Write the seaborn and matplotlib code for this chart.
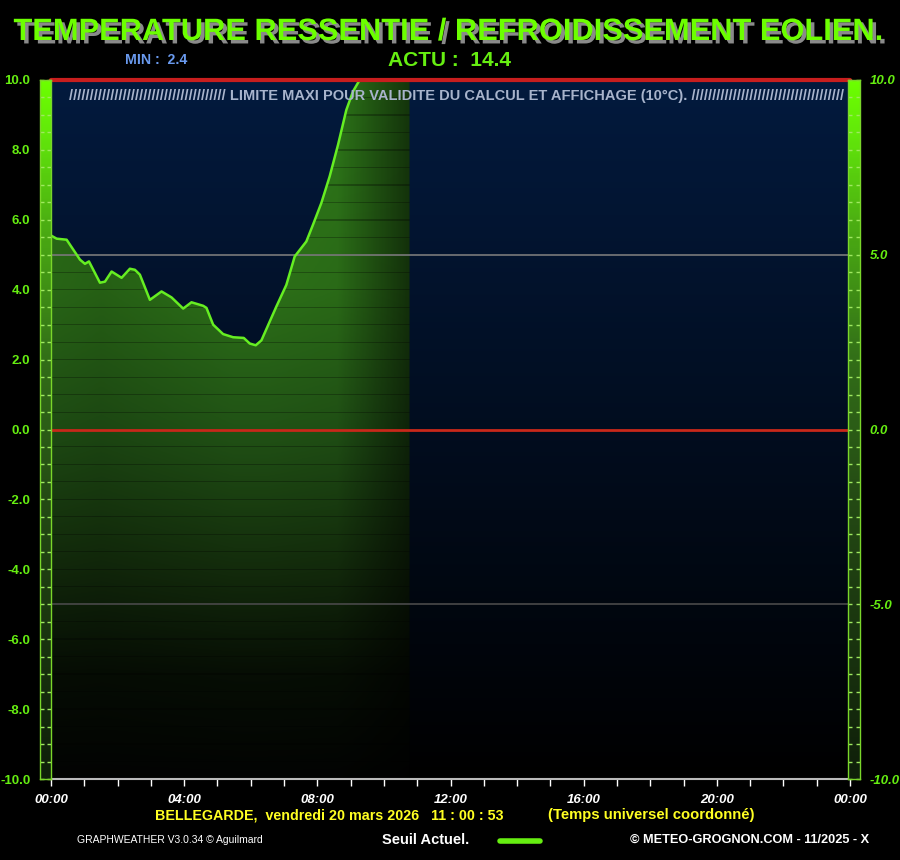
import numpy as np
import pandas as pd
import seaborn as sns
import matplotlib.pyplot as plt
import matplotlib.patheffects as pe
from matplotlib.colors import to_rgb, LinearSegmentedColormap
from matplotlib.lines import Line2D

# heures (UTC, en heures décimales) et température ressentie (°C)
heures = [0.0, 0.17, 0.47, 0.87, 1.02, 1.14, 1.47, 1.62, 1.82, 2.12, 2.37, 2.52, 2.67,
          2.97, 3.32, 3.62, 3.97, 4.22, 4.57, 4.67, 4.87, 5.17, 5.47, 5.79, 5.97, 6.15,
          6.32, 6.77, 7.07, 7.32, 7.67, 7.87, 8.12, 8.37, 8.62, 8.87, 9.07, 9.27, 9.6,
          10.0, 10.4, 10.77]
ressentie = [5.55, 5.46, 5.43, 4.86, 4.74, 4.81, 4.20, 4.23, 4.52, 4.34, 4.60, 4.57, 4.43,
             3.71, 3.95, 3.78, 3.46, 3.64, 3.54, 3.48, 3.00, 2.73, 2.64, 2.62, 2.46, 2.41,
             2.55, 3.52, 4.14, 4.95, 5.38, 5.86, 6.48, 7.24, 8.14, 9.14, 9.67, 10.0, 11.0,
             12.2, 13.4, 14.4]

x_ticks = [0, 4, 8, 12, 16, 20, 24]
x_labels = ["00:00", "04:00", "08:00", "12:00", "16:00", "20:00", "00:00"]
y_ticks_gauche = [10, 8, 6, 4, 2, 0, -2, -4, -6, -8, -10]
y_ticks_droite = [10, 5, 0, -5, -10]

titre = "TEMPERATURE RESSENTIE / REFROIDISSEMENT EOLIEN."
ville = "BELLEGARDE,  vendredi 20 mars 2026   11 : 00 : 53"
fuseau = "(Temps universel coordonné)"

df = pd.DataFrame({"heure": heures, "temp": ressentie})

sns.set_theme(style="dark")
plt.rcParams['font.family'] = ['Liberation Sans', 'DejaVu Sans']

VERT = '#66ee11'
W, H = 900, 860


def px(x0, y0, x1, y1):
    return [x0 / W, 1 - y1 / H, (x1 - x0) / W, (y1 - y0) / H]


fig = plt.figure(figsize=(9, 8.6), dpi=100, facecolor='black')
ax = fig.add_axes(px(51, 80, 850, 779))
ax.set_facecolor('black')

# fond bleu nuit -> noir
vv = np.linspace(10, -10, 1400)
k = (vv + 10) / 20
navy = np.array(to_rgb('#031a3e'))
bg = (k[:, None] * navy)[:, None, :] * np.ones((1, 2, 1))
ax.imshow(bg, extent=[0, 24, -10, 10], aspect='auto', zorder=0)

# remplissage vert dégradé sous la courbe, avec les fines lignes tous les 0.5
t_end = heures[-1]
tt = np.linspace(0, t_end, 300)
stops_v = [10, 4, 0, -4, -7, -10]
stops_c = ['#2d7619', '#2a6a17', '#1f4e14', '#12290b', '#060d04', '#020302']
cols = np.array([to_rgb(c) for c in stops_c])
col_v = np.stack([np.interp(vv, stops_v[::-1], cols[::-1, i]) for i in range(3)], axis=1)
raies = np.abs(vv * 2 - np.round(vv * 2)) < 0.035
col_v[raies] *= 0.72
fade_h = np.interp(tt, [0, 1.5, 5.5, 6.5, 8.6, t_end], [0.95, 0.9, 1.05, 1.05, 1.0, 0.45])
fill = np.clip(col_v[:, None, :] * fade_h[None, :, None], 0, 1)
im = ax.imshow(fill, extent=[0, t_end, -10, 10], aspect='auto', zorder=1,
               interpolation='nearest')
poly = ax.fill_between(heures, ressentie, -10, color='none', lw=0)
im.set_clip_path(poly.get_paths()[0], transform=ax.transData)

ax.axhline(5, color='#7a7a7a', lw=1.2, zorder=3)
ax.axhline(-5, color='#4a4a4a', lw=1.2, zorder=3)
ax.axhline(0, color='#c8281a', lw=2, zorder=3)
ax.axhline(10, color='#c81e1e', lw=3, zorder=6, clip_on=False)

sns.lineplot(data=df, x="heure", y="temp", ax=ax, color='#66ee22', lw=1.8, zorder=4)

ax.set_xlim(0, 24)
ax.set_ylim(-10, 10)
ax.set_xlabel("")
ax.set_ylabel("")
for s in ['top', 'left', 'right']:
    ax.spines[s].set_visible(False)
ax.spines['bottom'].set_color('#bbbbbb')
ax.spines['bottom'].set_linewidth(1.5)
ax.set_xticks(x_ticks)
ax.set_xticklabels(x_labels, style='italic', weight='bold', color='white', fontsize=9.5)
ax.set_xticks(range(25), minor=True)
ax.tick_params(axis='x', which='both', bottom=True, direction='out', color='white',
               length=5, width=1, pad=6)
ax.set_yticks([])
ax.grid(False)

ax.text(0.508, 0.987, "/" * 38 + " LIMITE MAXI POUR VALIDITE DU CALCUL ET AFFICHAGE (10°C). " + "/" * 37,
        transform=ax.transAxes, ha='center', va='top', color='#a8b4cc',
        fontsize=10.5, weight='bold', zorder=7)

# barres latérales
bar_stops_v = [10, 8.5, 6, 2, -2, -10]
bar_stops_c = ['#6cff00', '#62e80a', '#4caf12', '#326e18', '#244a14', '#0f1f0a']
bcmap = LinearSegmentedColormap.from_list(
    'barre', [((v + 10) / 20, c) for v, c in zip(bar_stops_v[::-1], bar_stops_c[::-1])])
grad = np.linspace(10, -10, 300)[:, None]


def barre(rect, ticks, cote, italique):
    b = fig.add_axes(rect)
    b.imshow(grad, cmap=bcmap, vmin=-10, vmax=10, extent=[0, 1, -10, 10], aspect='auto')
    b.set_xlim(0, 1)
    b.set_ylim(-10, 10)
    b.set_xticks([])
    for s in b.spines.values():
        s.set_color('#7ad62a')
        s.set_linewidth(1)
    b.set_yticks(ticks)
    b.set_yticks(np.arange(-10, 10.5, 0.5), minor=True)
    b.tick_params(axis='y', which='both', direction='in', left=True, right=True,
                  length=3, color='#9fe860', width=1)
    b.tick_params(axis='y', which='major', labelleft=(cote == 'left'),
                  labelright=(cote == 'right'), pad=7)
    b.set_yticklabels([f"{t:.1f}" for t in ticks], color=VERT, weight='bold',
                      fontsize=9.5, style='italic' if italique else 'normal')
    b.grid(False)
    return b


barre(px(40, 80, 51, 779), y_ticks_gauche, 'left', False)
barre(px(848, 80, 860, 779), y_ticks_droite, 'right', True)

# textes
fig.text(0.5, 1 - 32 / H, titre, ha='center', va='center', fontsize=22.2, weight='bold',
         color='#6cff00',
         path_effects=[pe.withSimplePatchShadow(offset=(2.5, -2.5), shadow_rgbFace='#8a8a8a', alpha=1)])
fig.text(125 / W, 1 - 60 / H, "MIN :  2.4", ha='left', va='center', fontsize=10.2,
         weight='bold', color='#6a9aee')
fig.text(450 / W, 1 - 60 / H, "ACTU :  14.4", ha='center', va='center', fontsize=15,
         weight='bold', color=VERT)
fig.text(155 / W, 1 - 815 / H, ville, ha='left', va='center', fontsize=10.3,
         weight='bold', color='#ffff22')
fig.text(548 / W, 1 - 815 / H, fuseau, ha='left', va='center', fontsize=10.7,
         weight='bold', color='#ffff22')
fig.text(77 / W, 1 - 840 / H, "GRAPHWEATHER V3.0.34 © Aguilmard", ha='left', va='center',
         fontsize=7.5, color='white')
fig.text(382 / W, 1 - 840 / H, "Seuil Actuel.", ha='left', va='center', fontsize=10.5,
         weight='bold', color='white')
fig.add_artist(Line2D([500 / W, 540 / W], [1 - 841 / H, 1 - 841 / H], color='#66ee11',
                      lw=4, transform=fig.transFigure))
fig.text(630 / W, 1 - 840 / H, "© METEO-GROGNON.COM - 11/2025 - X", ha='left', va='center',
         fontsize=9.2, weight='bold', color='white')

fig.savefig("out.png", dpi=100, facecolor='black')
